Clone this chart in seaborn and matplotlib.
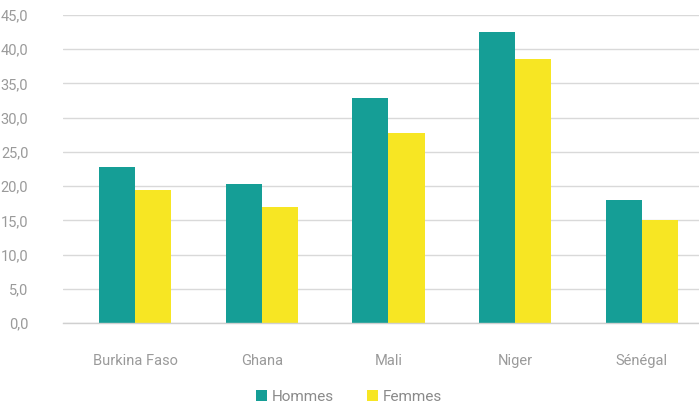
import matplotlib
matplotlib.use("Agg")
import matplotlib.pyplot as plt
import seaborn as sns
import pandas as pd
from matplotlib.ticker import FixedLocator, FuncFormatter

countries = ["Burkina Faso", "Ghana", "Mali", "Niger", "Sénégal"]
hommes = [22.8, 20.3, 32.9, 42.5, 18.0]
femmes = [19.4, 17.0, 27.8, 38.6, 15.1]
series = ["Hommes", "Femmes"]
colors = ["#159E96", "#F7E623"]

df = pd.DataFrame({
    "pays": countries * 2,
    "valeur": hommes + femmes,
    "sexe": [series[0]] * len(countries) + [series[1]] * len(countries),
})

sns.set_style("white")
plt.rcParams['font.family'] = ['Roboto', 'DejaVu Sans']

fig = plt.figure(figsize=(6.99, 4.08), dpi=100)
ax = fig.add_axes([63/699, 1 - 323/408, 1 - 63/699, (323 - 15)/408])

sns.barplot(data=df, x="pays", y="valeur", hue="sexe", palette=colors,
            width=0.57, gap=0, saturation=1, linewidth=0, ax=ax, legend=True)

ax.set_ylim(0, 45)
ax.set_xlim(-0.571, 4.453)
ax.set_yticks([0, 5, 10, 15, 20, 25, 30, 35, 40, 45])
ax.yaxis.set_major_formatter(FuncFormatter(lambda v, p: f"{v:.1f}".replace(".", ",")))
ax.grid(axis="y", color="#d9d9d9", linewidth=1)
ax.set_axisbelow(True)
for s in ["left", "top", "right"]:
    ax.spines[s].set_visible(False)
ax.spines["bottom"].set_color("#d0d0d0")
ax.spines["bottom"].set_linewidth(1)

ax.tick_params(axis="y", length=0, pad=25, labelsize=10.5, labelcolor="#9a9a9a")
ax.tick_params(axis="x", which="major", length=0, pad=22, labelsize=10.5, labelcolor="#9a9a9a")
ax.xaxis.set_minor_locator(FixedLocator([-0.5, 0.5, 1.5, 2.5, 3.5]))
ax.tick_params(axis="x", which="minor", length=5, color="#d0d0d0", width=1, direction="out")
ax.set_xlabel("")
ax.set_ylabel("")

leg = ax.legend(loc="center", bbox_to_anchor=(349/699, 1 - 397/408),
                bbox_transform=fig.transFigure, ncol=2, frameon=False,
                fontsize=11, handlelength=0.7, handleheight=0.7, handletextpad=0.3,
                columnspacing=2.2)
for t in leg.get_texts():
    t.set_color("#8a8a8a")

fig.savefig("out.png", dpi=100)
